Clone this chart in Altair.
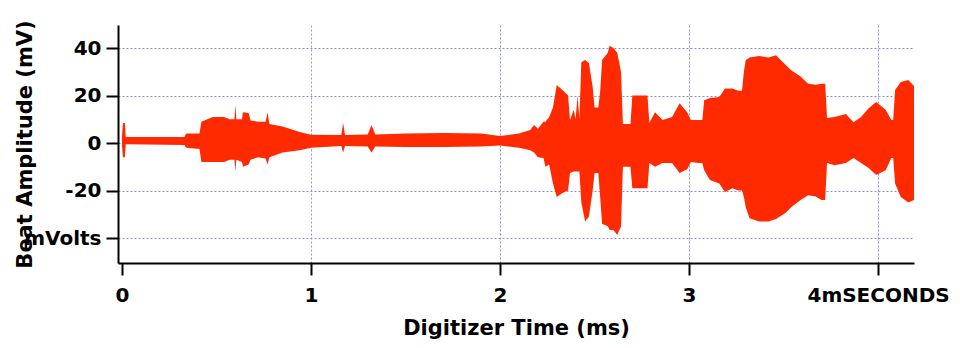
import altair as alt
import pandas as pd

# Envelope of the digitized beat signal
time_ms = [0.00, 0.005, 0.015, 0.02, 0.33, 0.34, 0.41, 0.42, 0.48, 0.54, 0.57, 0.595, 0.60, 0.605,
           0.635, 0.64, 0.67, 0.68, 0.72, 0.76, 0.77, 0.78, 0.85, 0.94, 1.00,
           1.16, 1.17, 1.18, 1.30, 1.32, 1.34, 1.50, 1.70, 1.90, 2.00,
           2.10, 2.16, 2.18, 2.20, 2.23, 2.24, 2.26, 2.28, 2.30, 2.33, 2.36, 2.37, 2.39, 2.40,
           2.41, 2.42, 2.43, 2.45, 2.47, 2.49, 2.50, 2.52, 2.53, 2.54, 2.57, 2.58, 2.60, 2.62,
           2.64, 2.65, 2.69, 2.70, 2.78, 2.79, 2.82, 2.86, 2.91, 2.95, 2.99, 3.01, 3.05, 3.07,
           3.08, 3.11, 3.16, 3.19, 3.23, 3.26, 3.28, 3.29, 3.30, 3.32, 3.37, 3.42, 3.46, 3.51,
           3.54, 3.59, 3.63, 3.67, 3.70, 3.72, 3.73, 3.77, 3.83, 3.87, 3.91, 3.95, 3.99, 4.04,
           4.07, 4.08, 4.09, 4.12, 4.16, 4.19]
upper_mv = [2.5, 8.4, 8.4, 2.5, 2.5, 4.0, 4.0, 9.0, 11.0, 11.0, 10.0, 10.0, 16.0, 10.0,
            10.0, 13.0, 12.6, 9.5, 9.0, 9.0, 13.0, 8.0, 7.0, 4.6, 3.5,
            3.4, 8.4, 3.4, 3.6, 7.6, 3.6, 4.0, 4.2, 4.0, 3.0,
            4.0, 5.5, 7.6, 6.0, 9.0, 9.0, 11.0, 15.0, 24.4, 22.3, 20.0, 9.7, 14.0, 10.0,
            20.0, 10.0, 34.0, 35.0, 33.7, 23.6, 15.0, 15.0, 22.0, 35.0, 38.0, 41.0, 40.0, 38.0,
            30.0, 8.0, 8.0, 20.0, 20.0, 8.4, 13.0, 9.7, 11.0, 16.8, 13.0, 9.7, 9.7, 9.7,
            18.0, 19.0, 19.4, 23.0, 23.0, 22.0, 22.0, 30.0, 35.0, 36.0, 36.6, 36.0, 37.0, 33.0,
            30.7, 28.0, 25.0, 24.5, 25.0, 25.0, 10.5, 11.0, 12.2, 8.8, 11.0, 14.7, 17.3, 14.0,
            9.7, 9.7, 22.3, 25.7, 26.5, 24.0]
lower_mv = [-0.5, -6.0, -6.0, -0.5, -0.8, -2.0, -2.5, -8.0, -8.0, -8.0, -7.0, -7.0, -12.0, -7.0,
            -8.0, -10.0, -9.0, -7.0, -6.0, -6.5, -9.0, -6.0, -4.0, -3.0, -2.0,
            -1.2, -4.0, -1.2, -1.5, -4.0, -1.5, -1.7, -1.7, -1.5, -1.0,
            -2.0, -3.0, -4.0, -6.0, -6.3, -10.0, -9.0, -17.0, -22.7, -21.0, -20.0, -12.6, -12.0, -12.0,
            -12.0, -12.0, -25.0, -33.0, -31.0, -20.0, -12.6, -12.6, -23.0, -34.0, -35.0, -36.6, -36.6, -38.7,
            -35.0, -10.0, -10.0, -19.0, -19.0, -8.4, -10.0, -8.4, -8.4, -12.6, -11.0, -8.0, -8.4, -8.4,
            -11.4, -15.6, -17.0, -20.6, -19.0, -20.0, -20.0, -22.7, -27.0, -31.7, -33.0, -33.0, -32.0, -29.5,
            -27.0, -24.0, -22.0, -22.5, -24.0, -24.0, -8.4, -9.3, -8.4, -6.3, -8.4, -10.5, -13.5, -11.4,
            -6.3, -6.3, -17.0, -22.7, -25.0, -24.0]

x_ticks = [0, 1, 2, 3, 4]
y_ticks = [40, 20, 0, -20, -40]

df = pd.DataFrame({"t": time_ms, "hi": upper_mv, "lo": lower_mv})

FONT = "DejaVu Sans"
GRID = "#8a8ae0"

x_axis = alt.Axis(
    title="Digitizer Time (ms)",
    values=x_ticks,
    labelExpr="datum.value == 4 ? '4mSECONDS' : toString(datum.value)",
    labelFont=FONT, labelFontSize=20, labelFontWeight="bold", labelColor="black",
    labelPadding=10, labelFlush=False, labelOverlap=False,
    titleFont=FONT, titleFontSize=21, titleFontWeight="bold", titleColor="black",
    titleBaseline="alphabetic", titleY=71,
    domainColor="black", domainWidth=2,
    tickColor="black", tickWidth=2, tickSize=12,
    grid=True, gridColor=GRID, gridDash=[2, 2], gridWidth=1,
    gridOpacity={"condition": {"test": "datum.value == 0", "value": 0}, "value": 1},
)

y_axis = alt.Axis(
    title="Beat Amplitude (mV)",
    values=y_ticks,
    labelExpr="datum.value == -40 ? 'mVolts' : toString(datum.value)",
    labelFont=FONT, labelFontSize=20, labelFontWeight="bold", labelColor="black",
    labelPadding=5, labelOverlap=False,
    titleFont=FONT, titleFontSize=21, titleFontWeight="bold", titleColor="black",
    titleX=-93, titleBaseline="middle",
    domainColor="black", domainWidth=2,
    tickColor="black", tickWidth=2, tickSize=12,
    grid=True, gridColor=GRID, gridDash=[2, 2], gridWidth=1,
)

chart = alt.Chart(df).mark_area(color="#ff2a00", interpolate="linear", opacity=1).encode(
    x=alt.X("t:Q", scale=alt.Scale(domain=[-0.021, 4.19], nice=False, zero=False), axis=x_axis),
    y=alt.Y("hi:Q", scale=alt.Scale(domain=[-50.5, 49.7], nice=False, zero=False), axis=y_axis),
    y2="lo:Q",
).properties(
    width=796, height=238,
    autosize=alt.AutoSizeParams(type="none"),
    padding={"left": 110, "top": 17, "right": 38, "bottom": 76},
).configure_view(stroke=None)

chart.save("out.html", embed_options={"renderer": "svg", "actions": False})
